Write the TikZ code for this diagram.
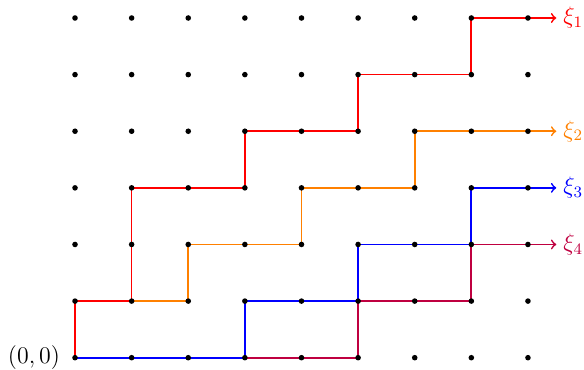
\documentclass[tikz,border=0pt]{standalone}
\usetikzlibrary{positioning}
\tikzset{
  walk/.style={line width=0.85pt},
  tip/.style={->, line width=0.85pt},
  tag/.style={font=\large},
}

\begin{document}
\begin{tikzpicture}[x=1cm,y=1cm]
\useasboundingbox (-1.325,-0.212) rectangle (8.99,6.318);

% Lattice points ---------------------------------------------------------------
\foreach \i in {0,...,8}
  \foreach \j in {0,...,6}
    \coordinate (p-\i-\j) at (\i,\j);

% Arrow ends -------------------------------------------------------------------
\coordinate (e1) at (8.5,6);
\coordinate (e2) at (8.5,4);
\coordinate (e3) at (8.5,3);
\coordinate (e4) at (8.5,2);

% Paths ------------------------------------------------------------------------
\draw[walk, purple] (p-3-0) -- (p-5-0) -- (p-5-1) -- (p-7-1) -- (p-7-2);
\draw[tip, purple] (p-7-2) -- (e4);
\node[tag, right=0pt of e4, text=purple] (x4) {$\xi_4$};

\draw[walk, blue] (p-0-0) -- (p-3-0) -- (p-3-1) -- (p-5-1) -- (p-5-2) -- (p-7-2) -- (p-7-3);
\draw[tip, blue] (p-7-3) -- (e3);
\node[tag, right=0pt of e3, text=blue] (x3) {$\xi_3$};

\draw[walk, orange] (p-1-1) -- (p-2-1) -- (p-2-2) -- (p-4-2) -- (p-4-3) -- (p-6-3) -- (p-6-4);
\draw[tip, orange] (p-6-4) -- (e2);
\node[tag, right=0pt of e2, text=orange] (x2) {$\xi_2$};

\draw[walk, red] (p-0-0) -- (p-0-1) -- (p-1-1) -- (p-1-3) -- (p-3-3) -- (p-3-4) -- (p-5-4) -- (p-5-5) -- (p-7-5) -- (p-7-6);
\draw[tip, red] (p-7-6) -- (e1);
\node[tag, right=0pt of e1, text=red] (x1) {$\xi_1$};

% Dots on top ------------------------------------------------------------------
\foreach \i in {0,...,8}
  \foreach \j in {0,...,6}
    \fill (p-\i-\j) circle (1.4pt);

\node[tag, left=4pt of p-0-0] (origin) {$(0,0)$};

\end{tikzpicture}
\end{document}
